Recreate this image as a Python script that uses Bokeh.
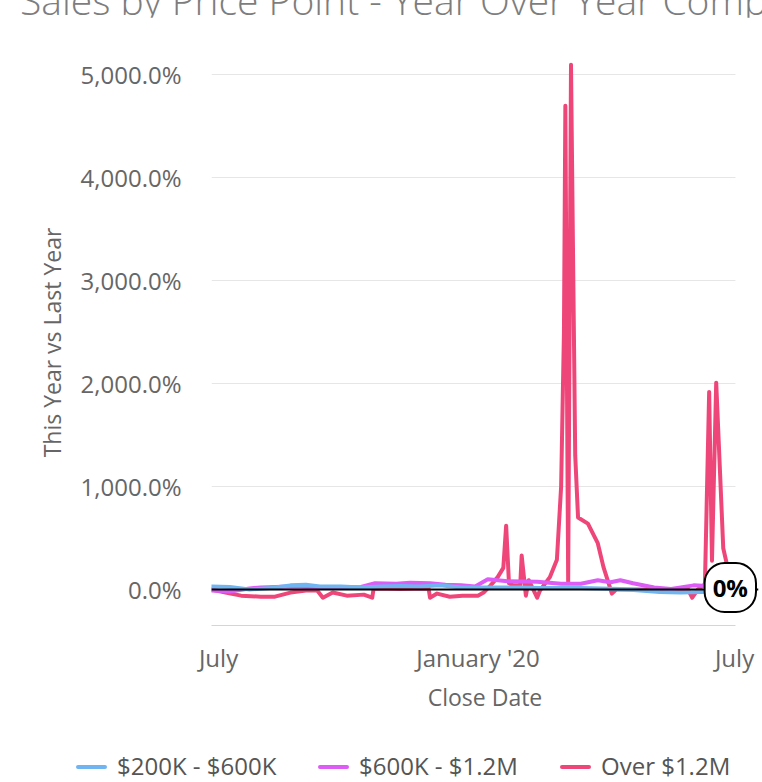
import pandas as pd
from bokeh.plotting import figure
from bokeh.layouts import column
from bokeh.models import (Range1d, FixedTicker, CustomJSTickFormatter, Span, Label,
                          ColumnDataSource, Div)
from bokeh.embed import file_html
from bokeh.resources import INLINE

title_text = "Sales by Price Point - Year Over Year Comparison"
x_title = "Close Date"
y_title = "This Year vs Last Year"
series_names = ["$200K - $600K", "$600K - $1.2M", "Over $1.2M"]
series_colors = ["#70b4f2", "#dd5cf5", "#ef4679"]

x_tick_dates = ["2019-07-01", "2020-01-01", "2020-07-01"]
y_ticks = [0, 1000, 2000, 3000, 4000, 5000]
zero_label = "0%"

low_dates = ["2019-06-26", "2019-07-09", "2019-07-23", "2019-08-07", "2019-08-21", "2019-09-01",
             "2019-09-11", "2019-09-26", "2019-10-10", "2019-10-24", "2019-11-07", "2019-11-21",
             "2019-12-05", "2019-12-20", "2020-01-03", "2020-01-17", "2020-01-31", "2020-02-14",
             "2020-02-29", "2020-03-14", "2020-03-28", "2020-04-11", "2020-04-25", "2020-05-09",
             "2020-05-24", "2020-06-07", "2020-06-17"]
low_values = [30, 25, 0, 15, 40, 45, 30, 30, 20, 30, 35, 30, 40, 20, 20, 20, 20, 15, 15, 15,
              10, 5, -10, -25, -30, -25, -20]

mid_dates = ["2019-06-26", "2019-07-09", "2019-07-23", "2019-07-31", "2019-08-21", "2019-09-18",
             "2019-10-10", "2019-10-20", "2019-11-04", "2019-11-14", "2019-11-28", "2019-12-09",
             "2019-12-20", "2019-12-30", "2020-01-08", "2020-01-22", "2020-02-12", "2020-02-29",
             "2020-03-14", "2020-03-26", "2020-04-04", "2020-04-11", "2020-04-20", "2020-05-05",
             "2020-05-17", "2020-06-02", "2020-06-17"]
mid_values = [-10, -20, 10, 20, 30, 20, 25, 60, 55, 65, 60, 45, 40, 30, 100, 80, 75, 55, 55,
              90, 70, 90, 60, 20, 5, 40, 30]

high_dates = ["2019-06-26", "2019-07-06", "2019-07-17", "2019-07-31", "2019-08-10", "2019-08-21",
              "2019-09-01", "2019-09-09", "2019-09-13", "2019-09-20", "2019-09-30", "2019-10-12",
              "2019-10-18", "2019-10-19", "2019-11-07", "2019-11-27", "2019-11-28", "2019-12-03",
              "2019-12-12", "2019-12-21", "2020-01-01", "2020-01-05", "2020-01-10", "2020-01-15",
              "2020-01-19", "2020-01-21", "2020-01-23", "2020-01-26", "2020-01-31", "2020-02-01",
              "2020-02-04", "2020-02-06", "2020-02-12", "2020-02-14", "2020-02-21", "2020-02-26",
              "2020-02-29", "2020-03-02", "2020-03-03", "2020-03-05", "2020-03-07", "2020-03-10",
              "2020-03-12", "2020-03-19", "2020-03-26", "2020-03-30", "2020-04-05", "2020-04-08",
              "2020-05-09", "2020-05-29", "2020-06-01", "2020-06-05", "2020-06-10", "2020-06-13",
              "2020-06-15", "2020-06-18", "2020-06-23", "2020-06-26"]
high_values = [0, -30, -60, -70, -70, -30, -10, -10, -80, -30, -60, -50, -80, 10, 5, 10, -80,
               -40, -70, -60, -60, -30, 40, 120, 210, 620, 60, 40, 40, 330, -60, 90, -80, -10,
               120, 290, 1000, 2500, 4700, 60, 5100, 1300, 700, 640, 450, 220, -40, 0, 0, 0,
               -80, 0, 50, 1920, 280, 2010, 400, 220]

FONT = "Open Sans"
GRAY = "#666666"

def ms(t):
    return float(pd.Timestamp(t).value // 10**6)

x_start = pd.Timestamp("2019-06-26")
x_axis_end = pd.Timestamp("2020-07-02")
x_view_end = pd.Timestamp("2020-07-18")

# title (its top is cut by the page edge, as in the original)
title = Div(text=title_text, width=762, height=17, margin=0,
            styles={"font-family": "'Open Sans'", "font-size": "39px", "font-weight": "300",
                    "line-height": "0px", "color": "#7d7d7d", "white-space": "nowrap",
                    "padding-left": "20px", "overflow": "visible"})

p = figure(width=762, height=728, x_axis_type="datetime", output_backend="svg",
           toolbar_location=None,
           x_range=Range1d(x_start, x_view_end),
           y_range=Range1d(-350, 5150),
           min_border_left=211, min_border_right=4, min_border_top=42, min_border_bottom=120)
p.outline_line_color = None
p.background_fill_color = "white"
p.border_fill_color = "white"

grid = p.ygrid[0]
grid.ticker = FixedTicker(ticks=y_ticks)
grid.cross_bounds = (ms(x_start), ms(x_axis_end))
grid.grid_line_color = "#e6e6e6"
grid.grid_line_width = 1
p.xgrid.visible = False

data = [(low_dates, low_values), (mid_dates, mid_values), (high_dates, high_values)]
sources = [ColumnDataSource(dict(x=pd.to_datetime(d), y=v)) for d, v in data]
for idx in [2, 1, 0]:
    p.line("x", "y", source=sources[idx], line_color=series_colors[idx],
           line_width=4, line_join="round", line_cap="round")

p.add_layout(Span(location=0, dimension="width", line_color="black", line_width=2))

tick_ms = [ms(t) for t in x_tick_dates]
p.xaxis.ticker = FixedTicker(ticks=tick_ms)
p.xaxis.formatter = CustomJSTickFormatter(code="""
const d = new Date(tick);
const m = d.getUTCMonth();
if (m == 6) return "July";
if (m == 0) return "January '" + String(d.getUTCFullYear()).slice(2);
return "";
""")
p.yaxis.ticker = FixedTicker(ticks=y_ticks)
p.yaxis.formatter = CustomJSTickFormatter(code="""
return tick.toLocaleString('en-US', {minimumFractionDigits: 1, maximumFractionDigits: 1}) + '%';
""")
for ax in (p.xaxis[0], p.yaxis[0]):
    ax.major_tick_line_color = None
    ax.minor_tick_line_color = None
    ax.major_tick_out = 0
    ax.major_tick_in = 0
    ax.major_label_text_font = FONT
    ax.major_label_text_font_size = "24px"
    ax.major_label_text_color = GRAY
    ax.axis_label_text_font = FONT
    ax.axis_label_text_font_size = "23px"
    ax.axis_label_text_color = GRAY
    ax.axis_label_text_font_style = "normal"
p.xaxis.axis_label = x_title
p.yaxis.axis_label = y_title
p.xaxis.bounds = (ms(x_start), ms(x_axis_end))
p.xaxis.axis_line_color = "#ccd6eb"
p.xaxis.axis_line_width = 1
p.yaxis.axis_line_color = None
p.yaxis.major_label_standoff = 30
p.yaxis.axis_label_standoff = 10
p.xaxis.major_label_standoff = 15
p.xaxis.axis_label_standoff = 4

p.add_layout(Label(x=pd.Timestamp("2020-06-28"), y=0, text=zero_label,
                   text_align="center", text_baseline="middle", y_offset=2,
                   text_font=FONT, text_font_size="24px", text_font_style="bold",
                   text_color="black", background_fill_color="white",
                   border_line_color="black", border_line_width=2,
                   border_radius=20, padding=8))

# legend strip below the chart
legend_x = [76, 318, 560]  # left edge of each legend entry, px
parts = []
for name, color, lx in zip(series_names, series_colors, legend_x):
    parts.append(
        f'<span style="position:absolute; left:{lx}px; top:20px; width:31px; height:4px; '
        f'background:{color}; border-radius:2px;"></span>'
        f'<span style="position:absolute; left:{lx + 41}px; top:5px; line-height:31px;">'
        f'{name}</span>')
legend_html = '<div style="position:relative; width:762px; height:37px;">' + "".join(parts) + "</div>"
legend = Div(text=legend_html, width=762, height=37, margin=0,
             styles={"font-family": "'Open Sans'", "font-size": "24px", "color": "#555555",
                     "white-space": "nowrap"})

layout = column(title, p, legend, spacing=0, margin=0)
open("out.html", "w").write(file_html(layout, INLINE))
